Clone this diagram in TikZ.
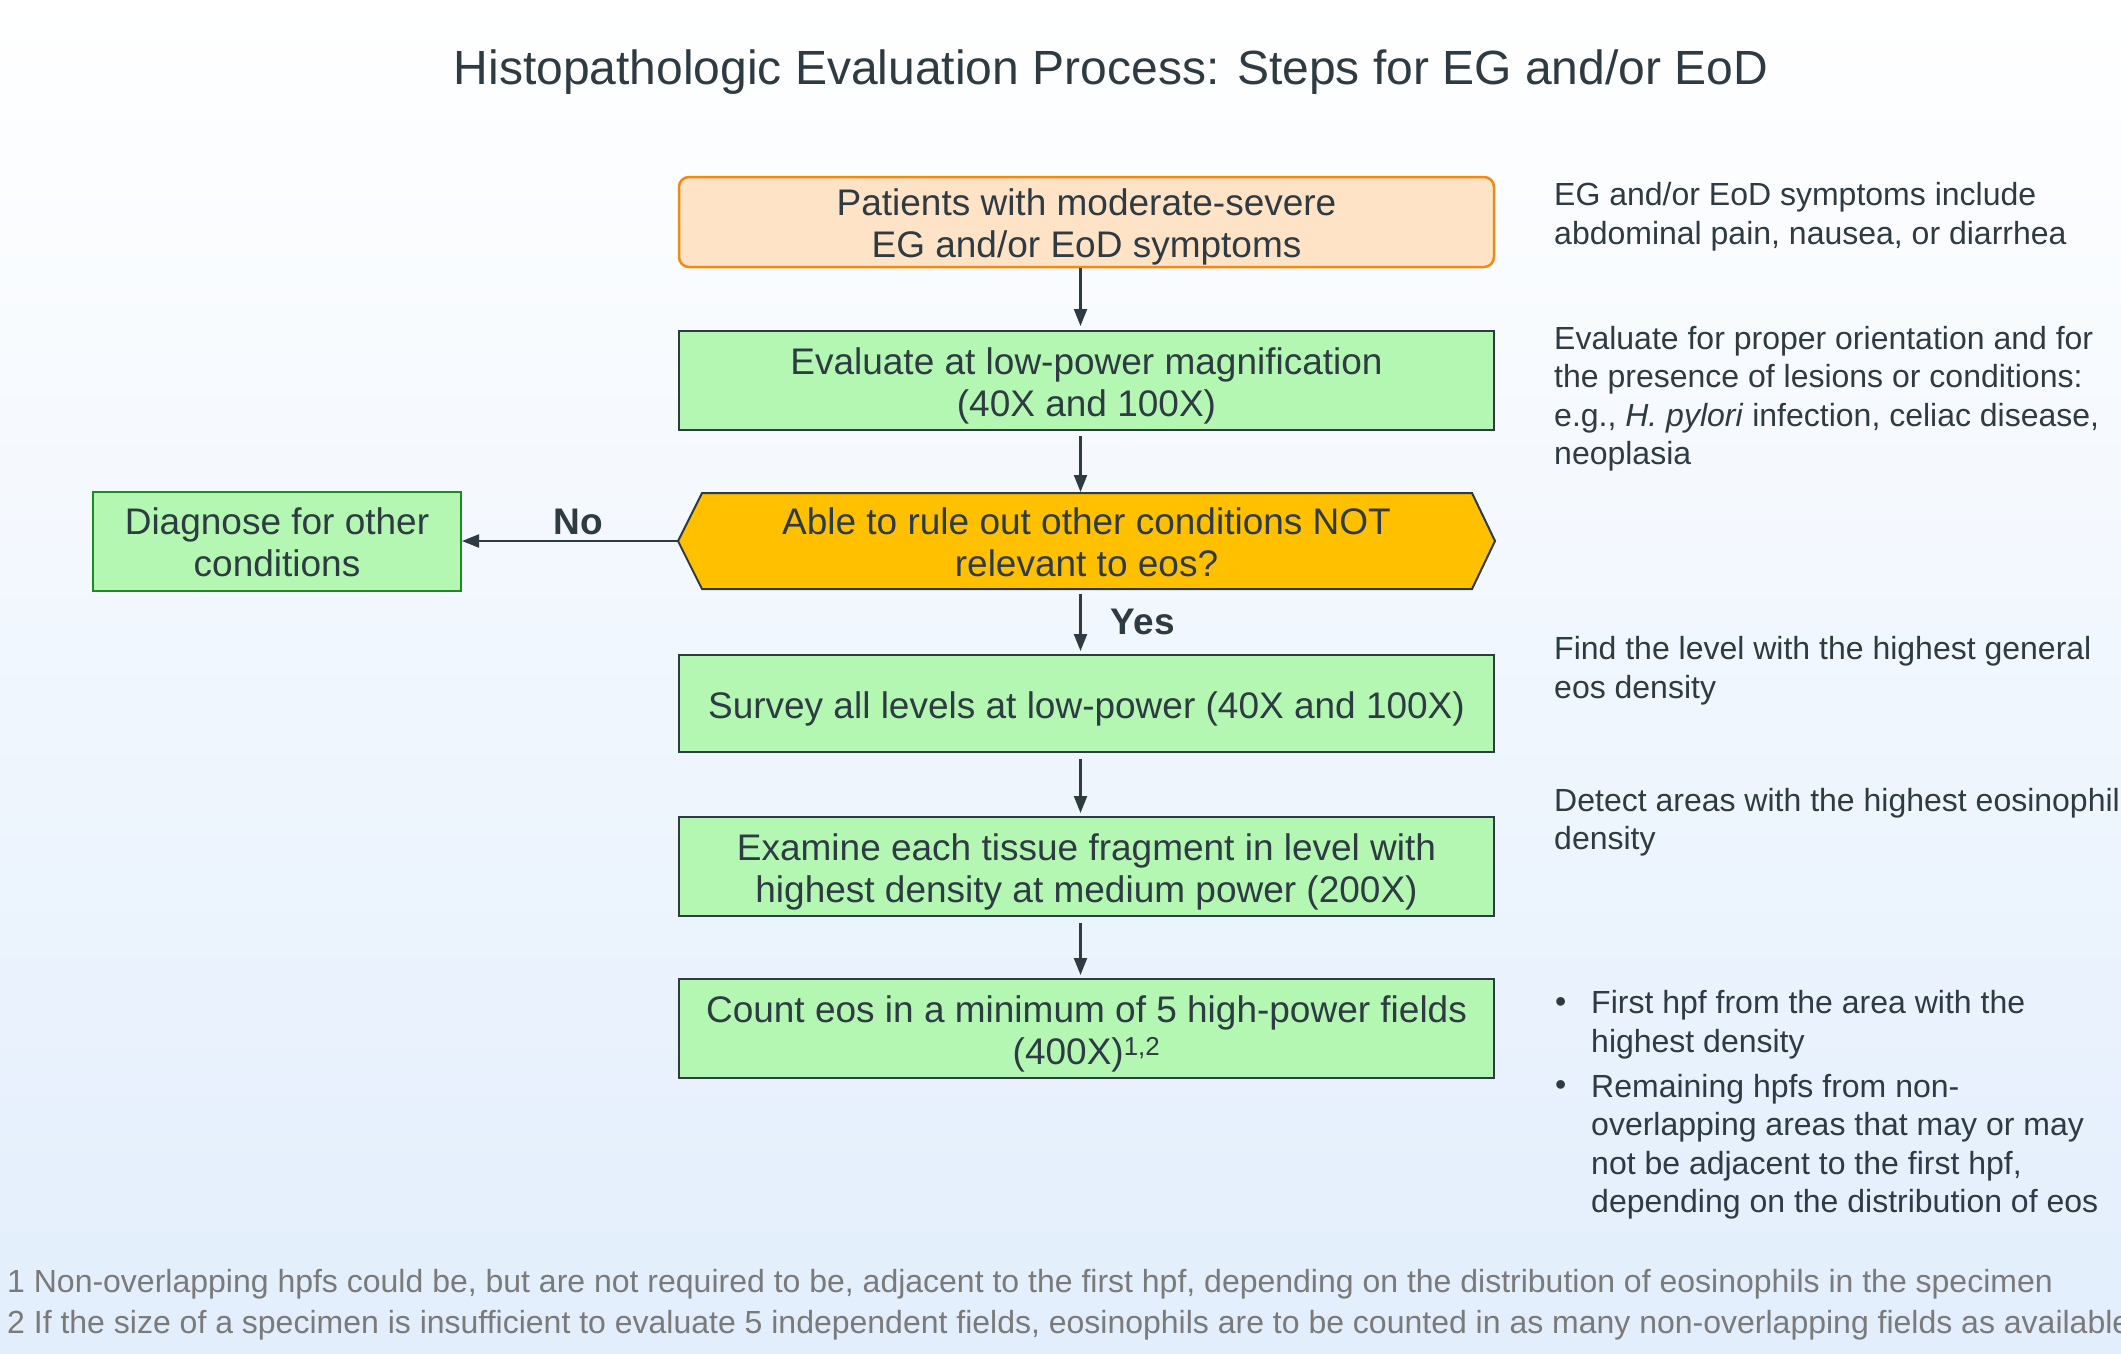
\documentclass[tikz,border=0pt]{standalone}
\usepackage{fontspec}
\setmainfont{Liberation Sans}
\usetikzlibrary{arrows.meta,backgrounds}
\definecolor{txt}{HTML}{2E3B42}
\definecolor{peachfill}{HTML}{FFE3C7}
\definecolor{peachline}{HTML}{F28A10}
\definecolor{boxgreen}{HTML}{B3F7B3}
\definecolor{greenline}{HTML}{1C8C1C}
\definecolor{amber}{HTML}{FFC000}
\definecolor{footgray}{HTML}{7A7A7A}
\definecolor{bgblue}{HTML}{E2EEFC}
\newcommand\bxfont{\fontsize{37}{42}\selectfont}
\newcommand\sidefont{\fontsize{32}{38.5}\selectfont}
\newcommand\lowtext[1]{\raisebox{0pt}[\dimexpr\height+6.5pt\relax][\dimexpr\depth-6.5pt\relax]{\begin{tabular}{@{}c@{}}#1\end{tabular}}}
\begin{document}
\begin{tikzpicture}[x=1pt,y=-1pt,
  box/.style={draw=txt, line width=2pt, fill=boxgreen, minimum width=815pt, align=center, text=txt, font=\bxfont, inner sep=0pt},
  startbox/.style={box, draw=peachline, fill=peachfill, line width=2.5pt, rounded corners=10pt},
  sidebox/.style={box, draw=greenline, minimum width=368pt},
  hexbox/.style={box, draw=none, fill=none},
  hexshape/.style={draw=txt, line width=2pt, fill=amber},
  arr/.style={draw=txt, line width=2.2pt, -{Triangle[length=17pt,width=13pt]}},
  lbl/.style={text=txt, font=\bxfont\bfseries},
  side/.style={text=txt, font=\sidefont, align=left, anchor=west, inner sep=0pt},
  foot/.style={text=footgray, font=\sidefont, anchor=west, inner sep=0pt}]
\useasboundingbox (0,0) rectangle (2121,1353);
\begin{scope}[on background layer]
  \shade[top color=white, bottom color=bgblue] (0,0) rectangle (2121,1353);
\end{scope}

\node[text=txt, font=\fontsize{48}{56}\selectfont] (title) at (1111,72) {Histopathologic Evaluation Process: Steps for EG and/or EoD};

\node[startbox, minimum height=90pt] (start) at (1086.5,222) {\lowtext{Patients with moderate-severe\\EG and/or EoD symptoms}};
\node[box, minimum height=99pt] (low) at (1086.5,380.5) {\lowtext{Evaluate at low-power magnification\\(40X and 100X)}};
\node[hexbox, minimum height=94pt] (hex) at (1086.5,541) {\lowtext{Able to rule out other conditions NOT\\relevant to eos?}};
\begin{scope}[on background layer]
  \draw[hexshape] (hex.west) -- ([xshift=24pt]hex.north west) -- ([xshift=-23pt]hex.north east) -- (hex.east) -- ([xshift=-23pt]hex.south east) -- ([xshift=24pt]hex.south west) -- cycle;
\end{scope}
\node[sidebox, minimum height=99pt] (diag) at (277,541) {\lowtext{Diagnose for other\\conditions}};
\node[box, minimum height=97pt] (survey) at (1086.5,703.5) {\lowtext{Survey all levels at low-power (40X and 100X)}};
\node[box, minimum height=99pt] (exam) at (1086.5,866.5) {\lowtext{Examine each tissue fragment in level with\\highest density at medium power (200X)}};
\node[box, minimum height=99pt] (count) at (1086.5,1028.5) {\lowtext{Count eos in a minimum of 5 high-power fields\\(400X)\textsuperscript{1,2}}};

\draw[arr, shorten >=4pt] ([xshift=-6pt]start.south) -- ([xshift=-6pt]low.north);
\draw[arr, shorten <=5pt, shorten >=1pt] ([xshift=-6pt]low.south) -- ([xshift=-6pt]hex.north);
\draw[arr, shorten <=5pt, shorten >=3pt] ([xshift=-6pt]hex.south) -- ([xshift=-6pt]survey.north) node[lbl, pos=0.5, right=26pt] (yes) {Yes};
\draw[arr, shorten <=6pt, shorten >=3pt] ([xshift=-6pt]survey.south) -- ([xshift=-6pt]exam.north);
\draw[arr, shorten <=6pt, shorten >=3pt] ([xshift=-6pt]exam.south) -- ([xshift=-6pt]count.north);
\draw[arr] (hex.west) -- (diag.east) node[lbl, pos=0.46, above=2pt] (no) {No};

\node[side] (s1) at (1554,216.5) {EG and/or EoD symptoms include\\abdominal pain, nausea, or diarrhea};
\node[side] (s2) at (1554,398.5) {Evaluate for proper orientation and for\\the presence of lesions or conditions:\\e.g., \textit{H. pylori} infection, celiac disease,\\neoplasia};
\node[side] (s3) at (1554,670.5) {Find the level with the highest general\\eos density};
\node[side] (s4) at (1554,822) {Detect areas with the highest eosinophil\\density};
\node[side] (b1) at (1555,1005.5) {\textbullet};
\node[side] (t1) at (1591,1024.5) {First hpf from the area with the\\highest density};
\node[side] (b2) at (1555,1088.5) {\textbullet};
\node[side] (t2) at (1591,1146.5) {Remaining hpfs from non-\\overlapping areas that may or may\\not be adjacent to the first hpf,\\depending on the distribution of eos};

\node[foot] (f1) at (7,1284.5) {1 Non-overlapping hpfs could be, but are not required to be, adjacent to the first hpf, depending on the distribution of eosinophils in the specimen};
\node[foot] (f2) at (7,1325.5) {2 If the size of a specimen is insufficient to evaluate 5 independent fields, eosinophils are to be counted in as many non-overlapping fields as available};
\end{tikzpicture}
\end{document}
